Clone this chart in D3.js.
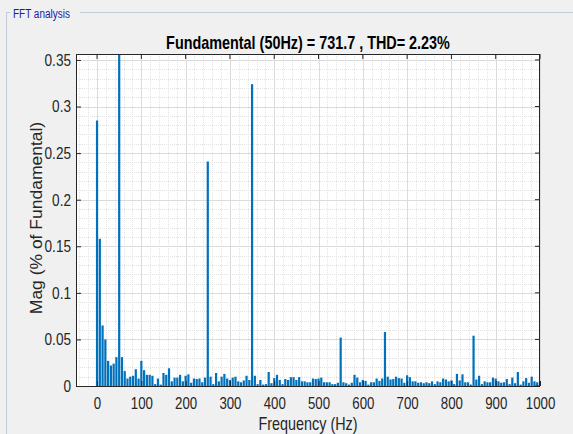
<!DOCTYPE html>
<html><head><meta charset="utf-8">
<script src="https://cdn.jsdelivr.net/npm/d3@7"></script>
<style>
html,body{margin:0;padding:0;background:#f0f0f0;}
svg{display:block;font-family:"Liberation Sans",Arial,Helvetica,sans-serif;}
</style></head>
<body>
<script>
// Frequency resolution 6.25 Hz (8 cycles of 50 Hz)
const binStep = 6.25;
const magnitudes = [
 0.285,0.158,0.065,0.050,0.027,0.022,0.024,0.031,100,0.031,
 0.016,0.008,0.010,0.011,0.018,0.008,0.027,0.017,0.012,0.012,
 0.011,0.002,0.008,0.0015,0.014,0.012,0.019,0.005,0.009,0.009,
 0.012,0.005,0.011,0.0125,0.0035,0.008,0.0075,0.008,0.004,0.009,
 0.241,0.010,0.002,0.014,0.005,0.010,0.013,0.008,0.0065,0.009,
 0.010,0.005,0.004,0.006,0.011,0.0065,0.324,0.011,0.002,0.0065,
 0.0015,0.002,0.015,0.003,0.0085,0.012,0.0065,0.002,0.0075,0.0065,
 0.0095,0.0095,0.0065,0.0095,0.005,0.005,0.004,0.004,0.008,0.0075,
 0.008,0.009,0.004,0.004,0.004,0.002,0.002,0.0035,0.052,0.004,
 0.003,0.0015,0.0035,0.012,0.009,0.004,0.0065,0.0055,0.0015,0.004,
 0.004,0.008,0.0055,0.008,0.058,0.010,0.007,0.0075,0.010,0.0085,
 0.008,0.0035,0.0115,0.0095,0.005,0.005,0.0035,0.004,0.003,0.004,
 0.003,0.005,0.002,0.005,0.004,0.008,0.007,0.005,0.006,0.002,
 0.013,0.006,0.0125,0.004,0.004,0.0015,0.054,0.007,0.011,0.002,
 0.005,0.004,0.004,0.009,0.008,0.005,0.0035,0.004,0.0075,0.002,
 0.009,0.003,0.015,0.0015,0.005,0.0085,0.0035,0.010,0.005,0.004
];
const xTicks = [0,100,200,300,400,500,600,700,800,900,1000];
const yTicks = [0,0.05,0.1,0.15,0.2,0.25,0.3,0.35];
const titleText = "Fundamental (50Hz) = 731.7 , THD= 2.23%";
const xLabel = "Frequency (Hz)";
const yLabel = "Mag (% of Fundamental)";
const panelTitle = "FFT analysis";

const data = magnitudes.map((v,i)=>({f:i*binStep, v:v}));

const W=573, H=434;
const L=76, R=540, T=54, B=386;
const SX=0.8; // horizontal squeeze of the reference lettering
const svg = d3.select("body").append("svg").attr("width",W).attr("height",H);

// panel frame
svg.append("rect").attr("x",6.5).attr("y",12.5).attr("width",W-6).attr("height",H)
  .attr("fill","none").attr("stroke","#c4ccd4");
svg.append("rect").attr("x",10).attr("y",4).attr("width",70).attr("height",14).attr("fill","#f0f0f0");
svg.append("text").attr("transform","translate(13,17.5) scale(0.74,1)").attr("font-size",13.5)
  .attr("fill","#1a1aa8").text(panelTitle);

const x = d3.scaleLinear().domain([-47.5,1000]).range([L,R]);
const y = d3.scaleLinear().domain([0,0.3564]).range([B,T]);

svg.append("rect").attr("x",L).attr("y",T).attr("width",R-L).attr("height",B-T).attr("fill","#fff");

// minor grid
const xMinor = d3.range(-40,1001,20).filter(v=>v%100!==0);
const yMinor = d3.range(1,36).map(i=>i*0.01).filter(v=>Math.abs(v/0.05-Math.round(v/0.05))>1e-6);
const g = svg.append("g");
g.selectAll(".xm").data(xMinor).join("line")
  .attr("x1",d=>Math.round(x(d))+0.5).attr("x2",d=>Math.round(x(d))+0.5).attr("y1",T).attr("y2",B)
  .attr("stroke","#e3e3e3").attr("stroke-dasharray","1,1");
g.selectAll(".ym").data(yMinor).join("line")
  .attr("y1",d=>Math.round(y(d))+0.5).attr("y2",d=>Math.round(y(d))+0.5).attr("x1",L).attr("x2",R)
  .attr("stroke","#e3e3e3").attr("stroke-dasharray","1,1");
// major grid
g.selectAll(".xg").data(xTicks).join("line")
  .attr("x1",d=>Math.round(x(d))+0.5).attr("x2",d=>Math.round(x(d))+0.5).attr("y1",T).attr("y2",B)
  .attr("stroke","#dcdcdc");
g.selectAll(".yg").data(yTicks).join("line")
  .attr("y1",d=>Math.round(y(d))+0.5).attr("y2",d=>Math.round(y(d))+0.5).attr("x1",L).attr("x2",R)
  .attr("stroke","#dcdcdc");

// bars
svg.append("clipPath").attr("id","clip").append("rect").attr("x",L).attr("y",T).attr("width",R-L).attr("height",B-T);
svg.append("g").attr("clip-path","url(#clip)").selectAll("rect").data(data).join("rect")
  .attr("x",d=>x(d.f-2.5)).attr("width",d=>x(d.f+2.5)-x(d.f-2.5))
  .attr("y",d=>y(Math.min(d.v,1))).attr("height",d=>B-y(Math.min(d.v,1)))
  .attr("fill","#0072BD");

// axes
const xAxis = d3.axisBottom(x).tickValues(xTicks).tickSize(-5).tickPadding(11).tickFormat(d3.format("d"));
const yAxis = d3.axisLeft(y).tickValues(yTicks).tickSize(-5).tickPadding(6).tickFormat(d=>String(d));
const gx = svg.append("g").attr("transform",`translate(0,${B})`).call(xAxis);
const gy = svg.append("g").attr("transform",`translate(${L},0)`).call(yAxis);
[gx,gy].forEach(a=>{
  a.selectAll("text").attr("font-size",17).attr("fill","#262626").attr("font-family","Liberation Sans, Arial, sans-serif");
  a.selectAll("line").attr("stroke","#262626");
  a.select(".domain").remove();
});
gx.selectAll("text").attr("transform",`scale(0.78,1)`);
gy.selectAll("text").attr("x",0).attr("transform",`translate(-5,0) scale(0.8,1)`);
// top/right ticks
svg.append("g").selectAll("line").data(yTicks).join("line")
  .attr("x1",R).attr("x2",R-5).attr("y1",d=>y(d)).attr("y2",d=>y(d)).attr("stroke","#262626");
svg.append("g").selectAll("line").data(xTicks).join("line")
  .attr("y1",T).attr("y2",T+5).attr("x1",d=>x(d)).attr("x2",d=>x(d)).attr("stroke","#262626");
svg.append("rect").attr("x",L+0.5).attr("y",T+0.5).attr("width",R-L-1).attr("height",B-T)
  .attr("fill","none").attr("stroke","#262626");

// labels
svg.append("text").attr("transform",`translate(${(L+R)/2},49) scale(${SX},1)`).attr("text-anchor","middle")
  .attr("font-size",18).attr("font-weight","bold").attr("fill","#000").text(titleText);
svg.append("text").attr("transform",`translate(${(L+R)/2},430) scale(${SX},1)`).attr("text-anchor","middle")
  .attr("font-size",18).attr("fill","#262626").text(xLabel);
svg.append("text").attr("transform",`translate(42,${(T+B)/2-2}) rotate(-90) scale(1,0.95)`).attr("text-anchor","middle")
  .attr("font-size",17.5).attr("fill","#262626").text(yLabel);
</script>
</body></html>
